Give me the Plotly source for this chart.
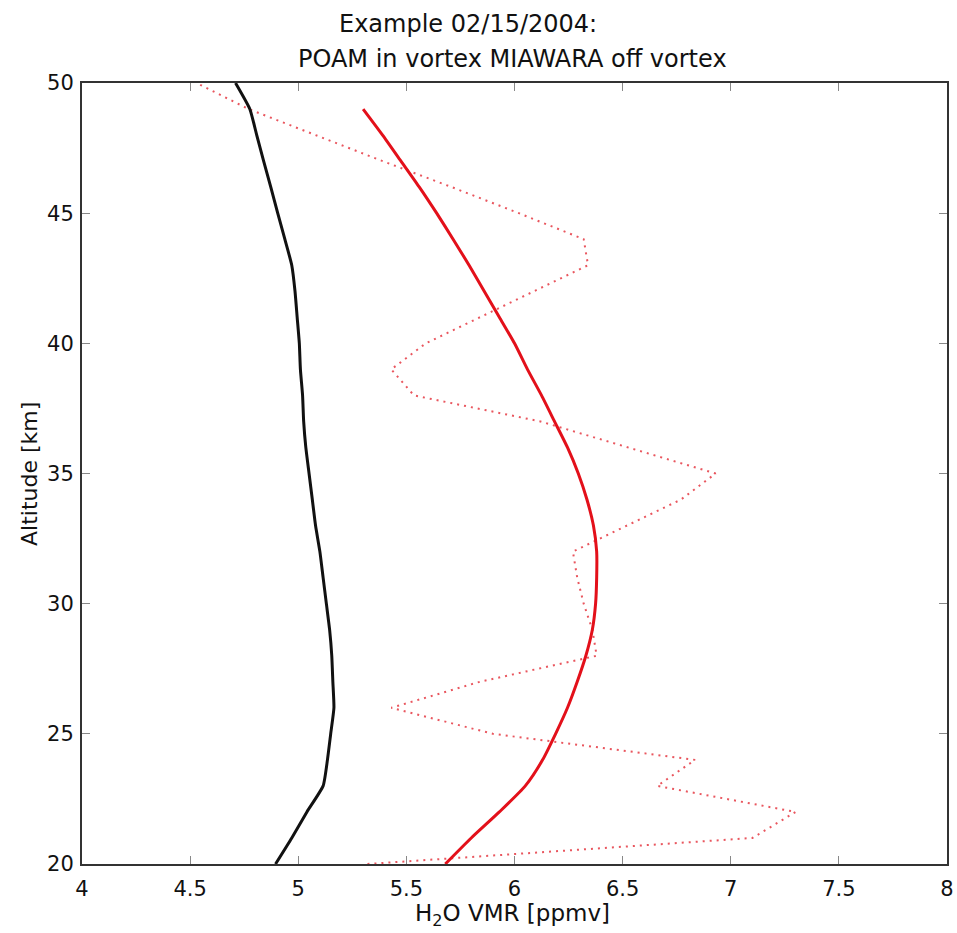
import plotly.graph_objects as go

# Altitude grids [km]
alt_black = [20, 21, 22, 23, 24, 25, 26, 27, 28, 29, 30, 31, 32, 33, 34, 35, 36, 37, 38, 39, 40,
             41, 42, 43, 44, 45, 46, 47, 48, 49, 50]
vmr_black = [4.895, 4.97, 5.04, 5.115, 5.135, 5.15, 5.165, 5.16, 5.155, 5.145, 5.13, 5.115, 5.10,
             5.08, 5.065, 5.05, 5.035, 5.025, 5.02, 5.01, 5.005, 4.995, 4.985, 4.97, 4.938, 4.905,
             4.873, 4.84, 4.808, 4.776, 4.71]

alt_red = [20, 21, 22, 23, 24, 25, 26, 27, 28, 29, 30, 31, 32, 33, 34, 35, 36, 37, 38, 39, 40,
           41, 42, 43, 44, 45, 46, 47, 48, 49]
vmr_red = [5.68, 5.80, 5.93, 6.05, 6.13, 6.19, 6.245, 6.29, 6.33, 6.36, 6.375, 6.38, 6.38, 6.365,
           6.335, 6.295, 6.245, 6.185, 6.125, 6.06, 6.0, 5.93, 5.86, 5.79, 5.716, 5.64, 5.56, 5.475,
           5.39, 5.30]

alt_dot = [20, 21, 22, 23, 24, 25, 26, 27, 28, 29, 30, 31, 32, 33, 34, 35, 36, 37, 38, 39, 40,
           41, 42, 43, 44, 45, 46, 47, 48, 49, 50]
vmr_dot = [5.32, 7.10, 7.30, 6.66, 6.835, 5.90, 5.43, 5.84, 6.38, 6.36, 6.32, 6.29, 6.27, 6.52,
           6.77, 6.93, 6.52, 6.12, 5.535, 5.43, 5.59, 5.84, 6.09, 6.34, 6.32, 6.02, 5.71, 5.39,
           5.08, 4.77, 4.53]

x_ticks = [4, 4.5, 5, 5.5, 6, 6.5, 7, 7.5, 8]
x_ticklabels = ["4", "4.5", "5", "5.5", "6", "6.5", "7", "7.5", "8"]
y_ticks = [20, 25, 30, 35, 40, 45, 50]

title_line1 = "Example 02/15/2004:"
title_line2 = "POAM in vortex MIAWARA off vortex"
x_label = "H<sub>2</sub>O VMR [ppmv]"
y_label = "Altitude [km]"

FONT = "DejaVu Sans"

fig = go.Figure()
fig.add_trace(go.Scatter(x=vmr_dot, y=alt_dot, mode="lines",
                         line=dict(color="rgba(225,30,40,0.75)", width=2, dash="2px,5px"),
                         showlegend=False, hoverinfo="skip"))
fig.add_trace(go.Scatter(x=vmr_black, y=alt_black, mode="lines",
                         line=dict(color="#111111", width=3, shape="spline", smoothing=0.5),
                         showlegend=False))
fig.add_trace(go.Scatter(x=vmr_red, y=alt_red, mode="lines",
                         line=dict(color="#e3101a", width=3, shape="spline", smoothing=0.6),
                         showlegend=False))

W, H = 957, 933
L, T, R, B = 82, 83, 10, 69
pw, ph = W - L - R, H - T - B

def px(xp):
    return (xp - L) / pw

def py(yp):
    return (H - B - yp) / ph

fig.update_layout(
    width=W, height=H,
    margin=dict(l=L, r=R, t=T, b=B, pad=0),
    paper_bgcolor="white", plot_bgcolor="white",
    font=dict(family=FONT, size=21, color="#111111"),
    showlegend=False,
    xaxis=dict(range=[4, 8], tickvals=x_ticks, ticktext=x_ticklabels, automargin=False,
               ticks="inside", ticklen=8, tickcolor="#888888", tickwidth=1,
               showline=True, linecolor="#333333", linewidth=2, mirror="allticks",
               showgrid=False, zeroline=False, ticklabelstandoff=5,
               tickfont=dict(family=FONT, size=21, color="#111111")),
    yaxis=dict(range=[20, 50], tickvals=y_ticks, automargin=False,
               ticks="inside", ticklen=8, tickcolor="#888888", tickwidth=1,
               showline=True, linecolor="#333333", linewidth=2, mirror="allticks",
               showgrid=False, zeroline=False, ticklabelstandoff=2,
               tickfont=dict(family=FONT, size=21, color="#111111")),
    annotations=[
        dict(text=title_line1, xref="paper", yref="paper", x=px(337), y=py(24),
             xanchor="left", yanchor="middle", showarrow=False,
             font=dict(family=FONT, size=24, color="#111111")),
        dict(text=title_line2, xref="paper", yref="paper", x=px(296), y=py(59),
             xanchor="left", yanchor="middle", showarrow=False,
             font=dict(family=FONT, size=24, color="#111111")),
        dict(text=x_label, xref="paper", yref="paper", x=px(512), y=py(915),
             xanchor="center", yanchor="middle", showarrow=False,
             font=dict(family=FONT, size=23, color="#111111")),
        dict(text=y_label, xref="paper", yref="paper", x=px(30), y=py(474),
             xanchor="center", yanchor="middle", showarrow=False, textangle=-90,
             font=dict(family=FONT, size=22, color="#111111")),
    ],
)

fig.write_html("out.html", config={"displayModeBar": False},
               post_script="document.body.style.margin='0';document.body.style.overflow='hidden';")
